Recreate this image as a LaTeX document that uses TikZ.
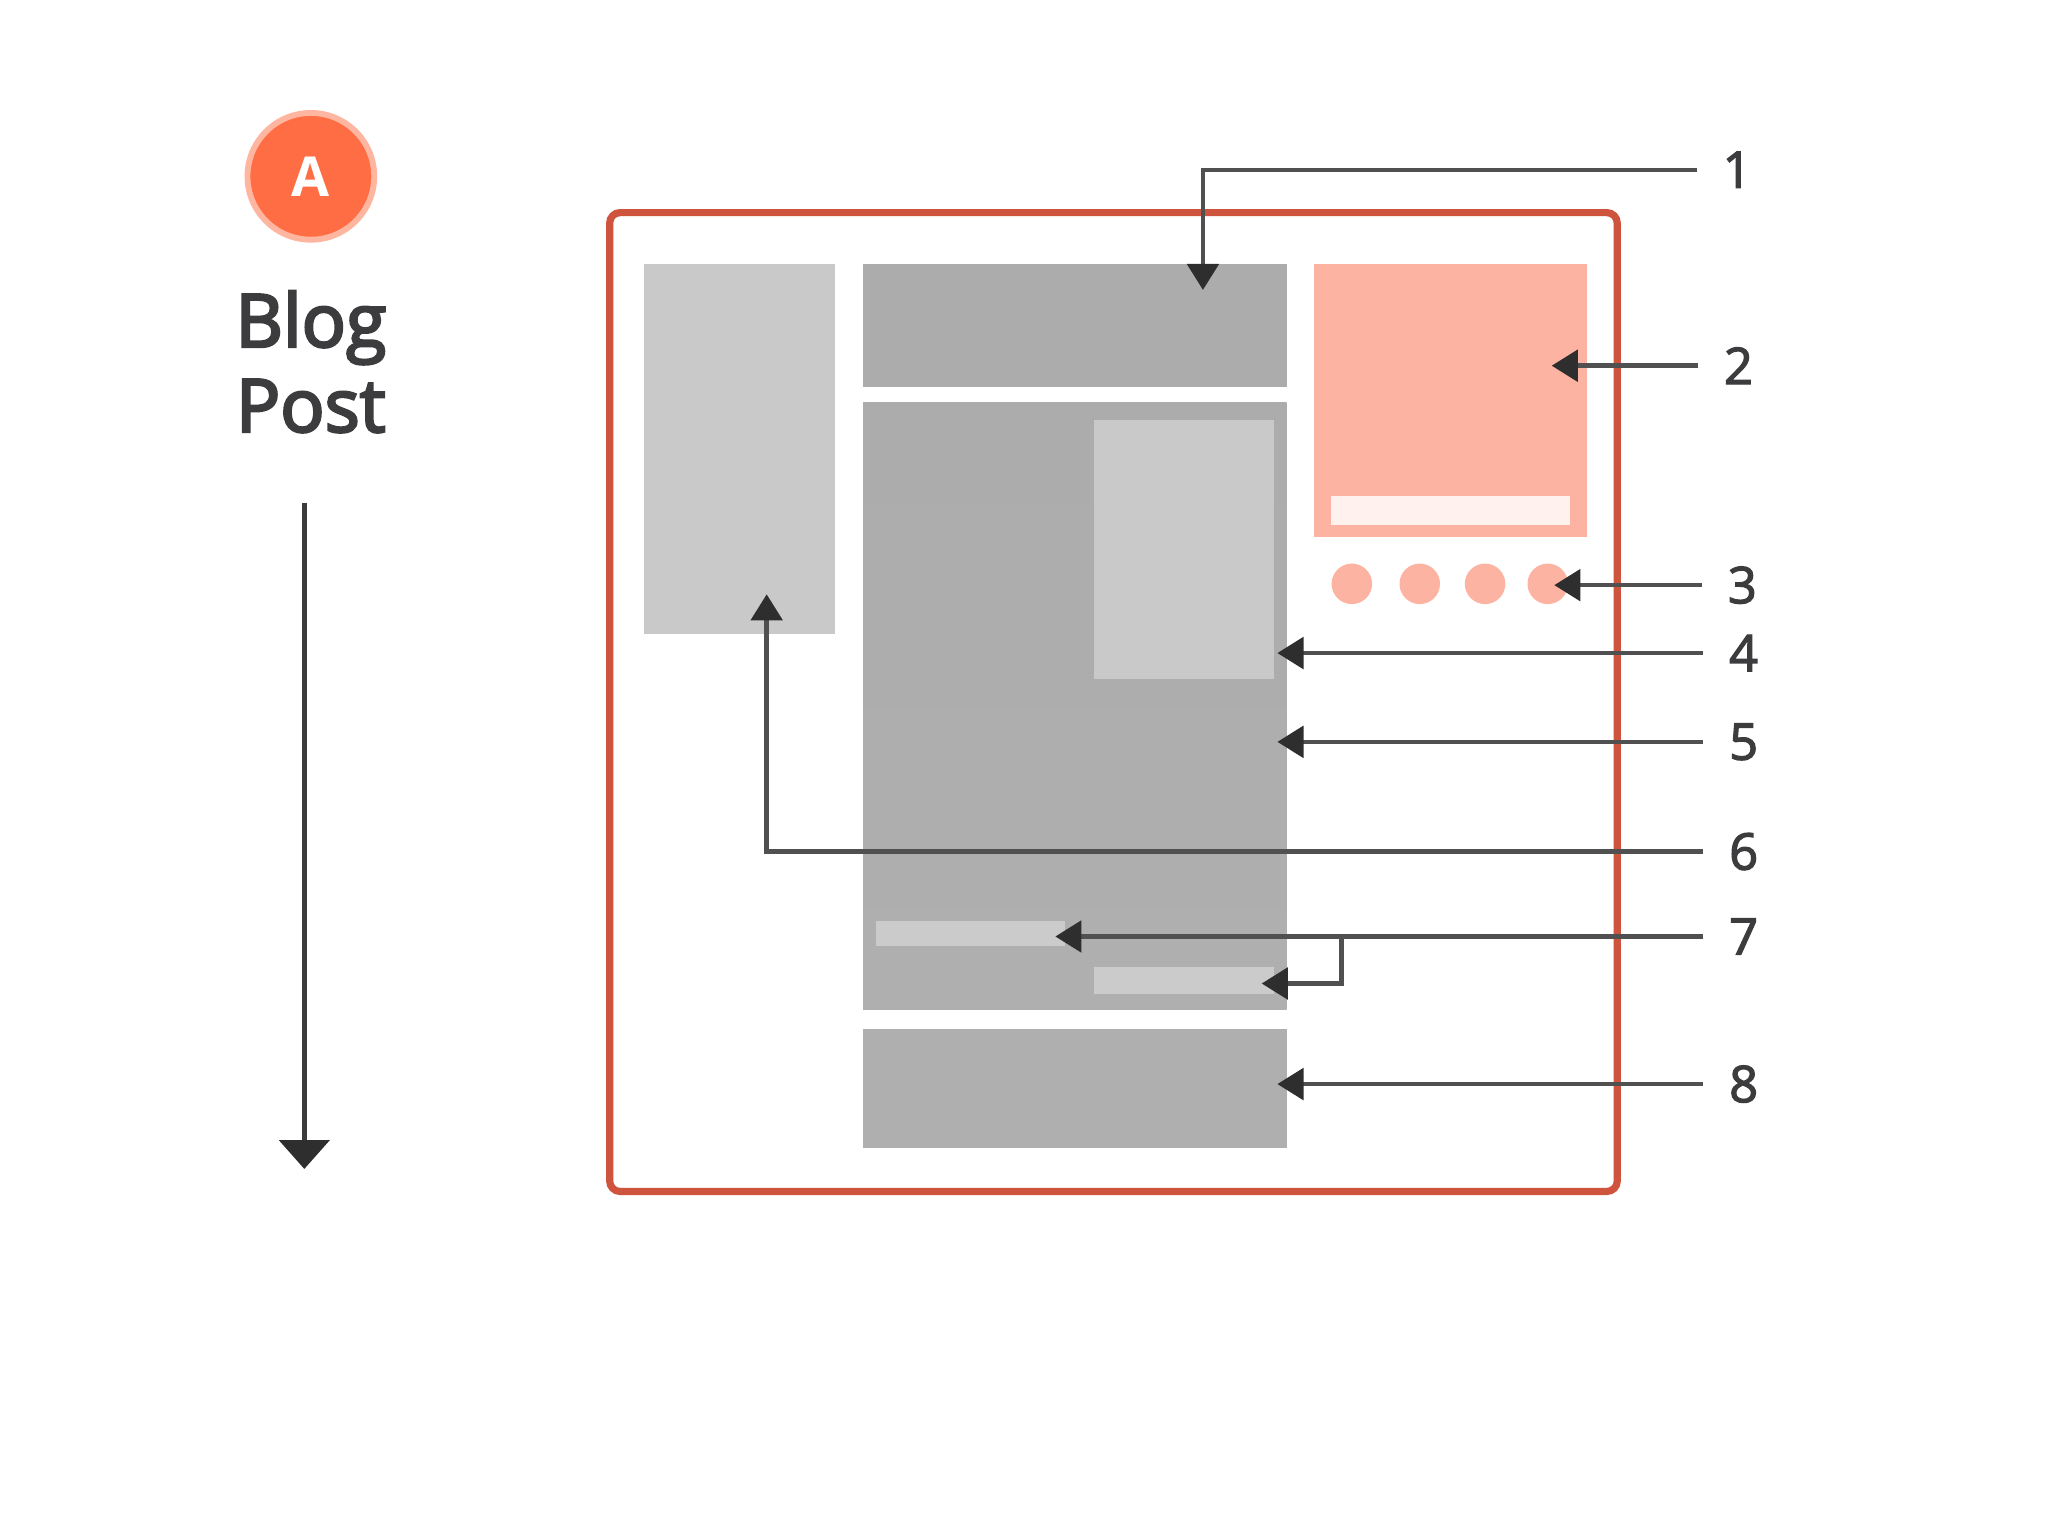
\documentclass[tikz,border=0pt]{standalone}
\usepackage{fontspec}
\setmainfont{Open Sans}
\newfontfamily\numfont{Open Sans}[FakeBold=2.5]
\newfontfamily\titlefont{Open Sans}[FakeBold=3.5]
\usetikzlibrary{arrows.meta}
\definecolor{framec}{HTML}{CF543D}
\definecolor{lightg}{HTML}{C8C9C8}
\definecolor{darkg}{HTML}{ABACAB}
\definecolor{maing}{HTML}{B0AFB0}
\definecolor{barg}{HTML}{CBCBCB}
\definecolor{pinkc}{HTML}{FDB3A1}
\definecolor{pinkbar}{HTML}{FEF1EE}
\definecolor{acol}{HTML}{FF6D45}
\definecolor{ahalo}{HTML}{FFB6A0}
\definecolor{txtc}{HTML}{3C3C3E}
\definecolor{linec}{HTML}{505050}
\definecolor{tipc}{HTML}{2E2E2E}
\tikzset{
  box/.style={draw=none, inner sep=0pt, outer sep=0pt, rectangle},
  dot/.style={circle, fill=pinkc, draw=none, inner sep=0pt, minimum size=0.31cm},
  lab/.style={font=\numfont\fontsize{11}{13}\selectfont, text=txtc, inner xsep=0.19cm, inner ysep=0pt},
  conn/.style={draw=linec, line width=0.034cm, -{Triangle[length=0.2cm,width=0.24cm,color=tipc]}}
}
\begin{document}
\begin{tikzpicture}[x=0.01cm,y=-0.01cm]
\useasboundingbox[fill=white] (0,0) rectangle (1568,1176);

% left column
\node[circle, fill=acol, draw=ahalo, line width=0.045cm, minimum size=0.97cm, inner sep=0pt,
      font=\bfseries\fontsize{12}{14}\selectfont, text=white] (A) at (238,135) {A};
\node[align=center, inner sep=0pt, font=\titlefont\fontsize{16}{18.5}\selectfont, text=txtc] (title) at (238,277) {Blog\\Post};
\coordinate (vtop) at (233,385);
\coordinate (vbot) at (233,895);
\draw[draw=txtc, line width=0.04cm, -{Triangle[length=0.22cm,width=0.38cm,color=tipc]}] (vtop) -- (vbot);

% boxes
\node[box, fill=lightg, minimum width=1.46cm, minimum height=2.83cm] (side) at (566,343.5) {};
\node[box, fill=darkg, minimum width=3.24cm, minimum height=0.94cm] (header) at (823,249) {};
\node[box, top color=darkg, bottom color=maing, minimum width=3.24cm, minimum height=4.65cm] (main) at (823,540.5) {};
\node[box, fill=lightg, minimum width=1.37cm, minimum height=1.98cm] (inner) at (906.5,421) {};
\node[box, fill=barg, minimum width=1.44cm, minimum height=0.19cm] (bara) at (743,714.5) {};
\node[box, fill=barg, minimum width=1.37cm, minimum height=0.21cm] (barb) at (906.5,750.5) {};
\node[box, fill=maing, minimum width=3.24cm, minimum height=0.91cm] (footer) at (823,833.5) {};
\node[box, fill=pinkc, minimum width=2.09cm, minimum height=2.09cm] (pink) at (1110.5,306.5) {};
\node[box, fill=pinkbar, minimum width=1.83cm, minimum height=0.22cm] (pbar) at (1110.5,391) {};
\node[dot] (d1) at (1035,447) {};
\node[dot] (d2) at (1087,447) {};
\node[dot] (d3) at (1137,447) {};
\node[dot] (d4) at (1185,447) {};

% frame
\node[box, draw=framec, line width=0.055cm, rounded corners=0.08cm, minimum width=7.71cm, minimum height=7.49cm] (frame) at (852.5,537.5) {};

% labels
\node[lab] (l1) at (1330,130) {1};
\node[lab] (l2) at (1331,280) {2};
\node[lab] (l3) at (1334,448) {3};
\node[lab] (l4) at (1335,500) {4};
\node[lab] (l5) at (1335,568) {5};
\node[lab] (l6) at (1335,652) {6};
\node[lab] (l7) at (1335,717) {7};
\node[lab] (l8) at (1335,830) {8};

% tips
\coordinate (t1) at (921,222);
\coordinate (t2) at (1188,280);
\coordinate (t3) at (1190,448);
\coordinate (t4) at (978,500);
\coordinate (t5) at (978,568);
\coordinate (t6) at (587,455);
\coordinate (t7a) at (808,717);
\coordinate (t7b) at (966,753);
\coordinate (t8) at (978,830);
\coordinate (b7) at (1027,717);

% connectors
\draw[conn] (l1.west) -| (t1);
\draw[conn] (l2.west) -- (t2);
\draw[conn] (l3.west) -- (t3);
\draw[conn] (l4.west) -- (t4);
\draw[conn] (l5.west) -- (t5);
\draw[conn] (l6.west) -| (t6);
\draw[conn] (l7.west) -- (t7a);
\draw[conn] (b7) |- (t7b);
\draw[conn] (l8.west) -- (t8);
\end{tikzpicture}
\end{document}
